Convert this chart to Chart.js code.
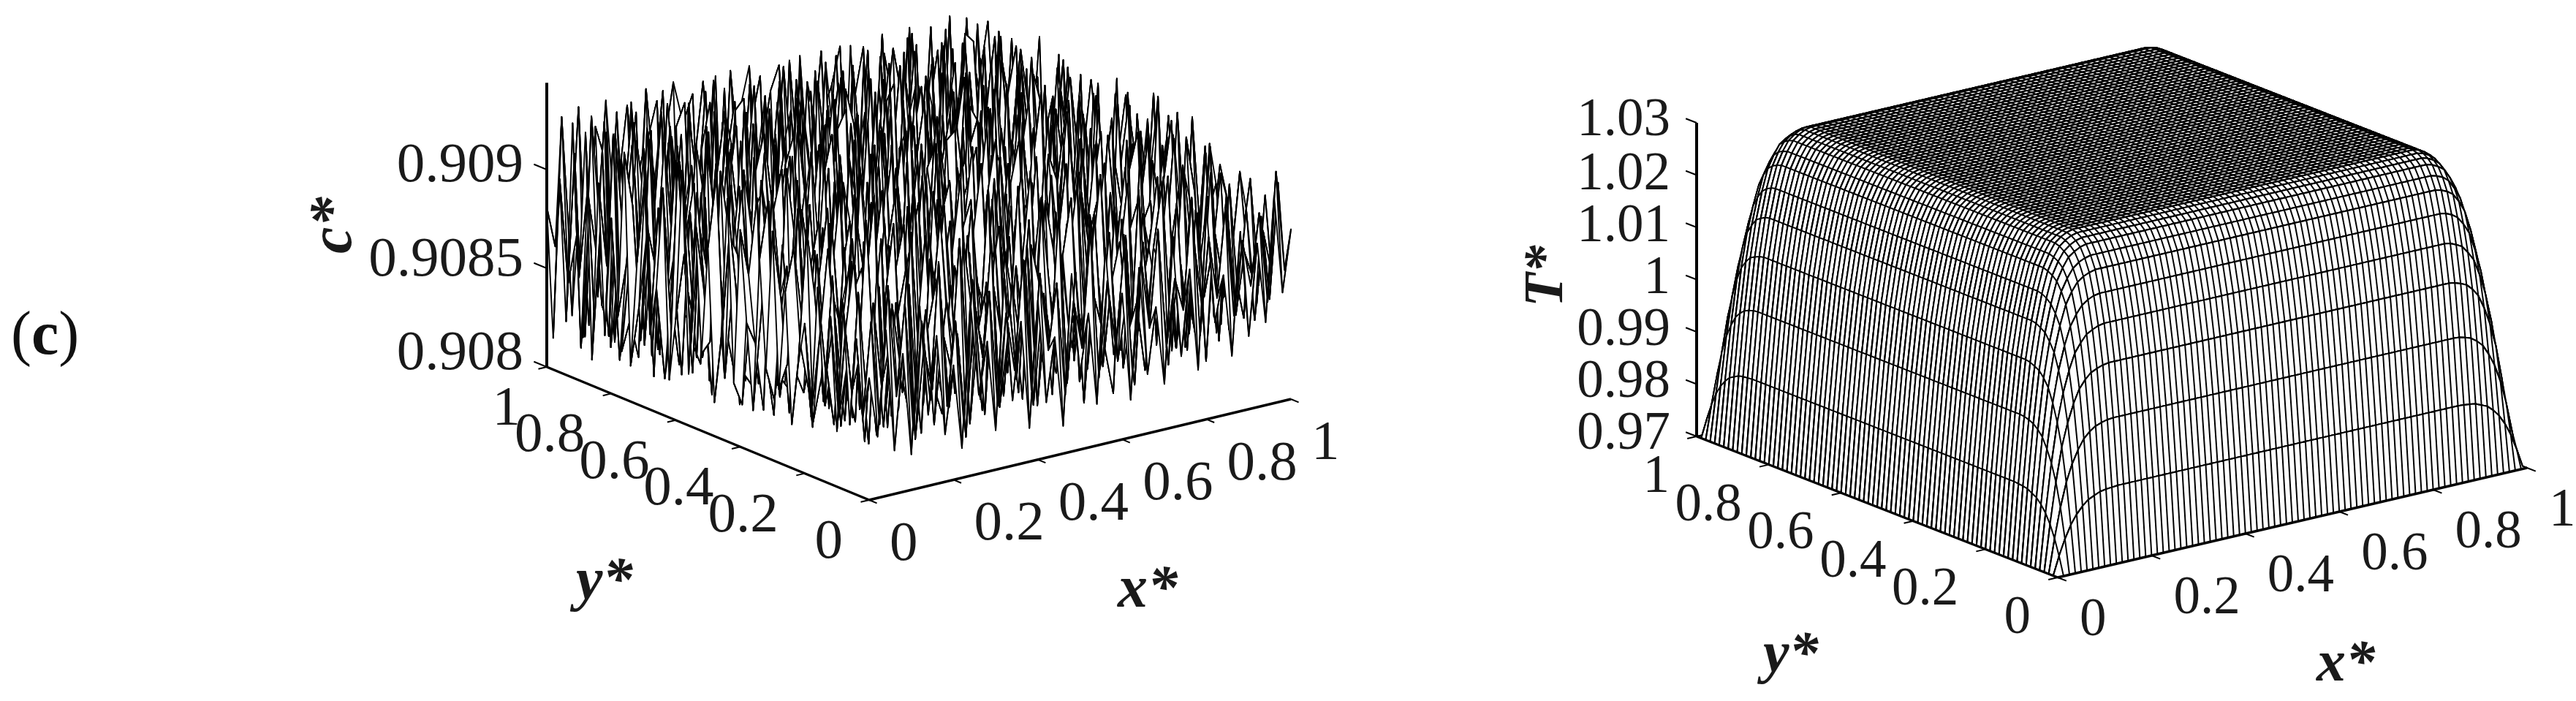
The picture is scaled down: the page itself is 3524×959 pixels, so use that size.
<!DOCTYPE html>
<html>
<head>
<meta charset="utf-8">
<style>
  body { margin: 0; background: #fff; }
  #panel { position: absolute; left: 15px; top: 407px; font: 84px "Liberation Serif"; color: #111; }
</style>
<script src="https://cdn.jsdelivr.net/npm/chart.js@4/dist/chart.umd.js"></script>
</head>
<body>
<div id="panel">(<b>c</b>)</div>
<canvas id="chart" width="3524" height="959"></canvas>
<script>
// tick values and labels
const planTicks = [0, 0.2, 0.4, 0.6, 0.8, 1];
const planText = ['0', '0.2', '0.4', '0.6', '0.8', '1'];
const cTicks = [0.908, 0.9085, 0.909];
const cText = ['0.908', '0.9085', '0.909'];
const tTicks = [0.97, 0.98, 0.99, 1, 1.01, 1.02, 1.03];
const tText = ['0.97', '0.98', '0.99', '1', '1.01', '1.02', '1.03'];

const cRows = [
[62,31,84,22,70,18,92,36,75,24, 58,15,88,40,66,20,96,33,72,17, 81,28,60,14,90,38,68,21,99,44, 74,19,85,30,63,23,94,35,78,26, 107,48,71,29,91,37,83,42,105,55,86],
[40,88,35,104,47,93,28,82,41,110, 36,78,25,97,43,89,30,76,46,101, 34,92,52,85,27,74,49,108,32,80, 45,95,29,87,51,100,39,73,56,112, 41,90,58,103,47,84,60,96,50,115,64],
[79,26,95,52,73,38,106,21,66,44, 91,33,69,16,84,54,112,27,63,39, 98,24,71,48,118,31,86,19,75,57, 102,36,65,22,93,43,80,28,109,35, 88,53,120,34,99,45,76,62,92,49,107],
[34,100,44,80,29,90,57,98,32,83, 24,70,50,115,37,76,23,88,59,72, 30,104,41,77,25,96,55,67,42,111, 33,74,94,47,61,26,87,117,46,69, 31,101,56,79,40,110,52,95,38,82,60],
[91,48,67,20,108,35,74,42,122,55, 71,94,30,61,99,18,65,46,105,28, 83,52,114,19,68,37,92,120,26,58, 85,40,16,103,34,116,50,64,25,89, 73,37,97,21,86,59,70,113,63,44,98],
[28,77,112,56,39,96,24,86,47,64, 17,104,43,81,33,109,72,27,90,56, 41,66,22,99,78,51,31,60,87,38, 107,25,73,48,93,37,62,83,118,30, 54,121,45,68,102,32,88,41,75,106,51],
[85,33,59,94,23,68,118,36,78,101, 46,29,75,122,58,40,95,64,19,83, 110,35,88,47,20,117,71,43,103,66, 29,82,124,36,57,90,21,99,49,70, 115,27,84,38,60,125,48,97,57,34,89],
[42,103,26,72,50,127,45,92,25,54, 86,62,112,35,20,84,31,107,52,74, 28,97,56,126,39,63,92,24,53,85, 119,44,61,100,22,76,114,34,67,94, 42,73,104,55,30,79,66,108,28,87,46],
[97,51,82,36,106,30,63,15,83,120, 41,19,68,91,76,123,46,61,96,33, 79,18,72,43,105,27,48,113,86,32, 64,95,23,80,125,44,59,88,102,26, 81,111,22,93,65,50,118,34,74,53,101],
[30,69,113,58,24,88,99,55,37,62, 94,116,49,27,109,38,16,89,70,117, 51,124,37,90,60,82,128,38,21,104, 47,35,112,56,73,29,97,17,46,121, 58,33,70,127,37,92,25,84,99,41,68],
[76,25,47,93,74,41,20,110,67,28, 105,73,34,129,56,66,100,42,24,58, 95,31,100,15,76,46,55,70,111,64, 87,125,40,18,91,108,52,77,116,31, 85,96,43,60,19,106,61,47,118,35,90],
[54,121,85,32,118,61,96,44,86,130, 23,52,88,18,82,31,125,74,108,35, 67,83,44,114,26,93,33,97,29,52, 119,22,68,94,36,60,27,103,39,72, 23,52,114,86,75,38,122,93,29,66,104],
[22,62,38,105,51,17,78,27,58,99, 67,113,40,71,97,119,50,21,63,89, 126,19,71,55,122,61,106,17,78,128, 37,74,101,49,115,83,127,56,69,20, 110,128,64,31,98,130,45,70,55,113,36],
[88,109,71,26,92,125,34,103,16,47, 122,30,95,123,24,59,86,39,116,44, 28,98,112,35,73,20,48,85,120,42, 65,18,55,128,25,44,75,96,22,91, 50,37,87,122,16,63,82,25,101,43,79],
[37,49,96,60,14,72,115,53,77,91, 35,64,19,48,107,34,70,128,57,94, 75,54,30,91,127,40,116,59,30,96, 111,84,47,72,104,16,122,35,59,126, 73,100,26,54,108,41,118,76,34,125,61],
[116,81,22,124,43,101,29,84,128,21, 110,79,86,123,61,18,112,26,83,15, 103,120,66,23,50,86,36,126,71,19, 57,32,99,20,87,63,92,28,110,78, 38,16,119,70,89,28,97,51,127,58,20],
[45,28,65,83,107,54,68,19,42,74, 53,28,127,39,93,76,46,101,54,121, 38,24,81,107,63,99,22,77,49,109, 130,74,41,118,54,34,124,67,45,16, 96,130,44,24,129,74,35,110,68,92,84],
[99,127,40,33,26,119,88,111,63,125, 36,98,16,72,51,129,33,68,20,88, 58,131,45,17,129,34,60,104,131,25, 40,91,62,27,95,78,14,50,121,85, 57,67,108,80,47,17,123,57,21,112,30],
[21,71,108,57,90,36,24,46,97,13, 82,60,118,43,112,24,90,116,73,37, 95,66,112,76,53,89,128,15,82,55, 100,20,126,84,43,115,101,36,74,29, 123,13,37,95,62,110,88,42,131,39,73],
[64,53,18,128,74,62,130,76,28,103, 41,129,26,87,65,104,57,12,45,126, 19,42,29,101,26,117,45,71,38,119, 66,113,35,56,128,23,61,87,132,48, 34,89,118,26,130,51,18,76,97,61,118],
[110,86,124,44,12,97,39,120,58,70, 132,20,75,101,15,79,37,94,130,62, 83,122,56,132,68,14,93,106,123,30, 77,47,97,16,70,109,47,125,18,65, 104,59,72,46,12,93,125,38,56,129,24],
[31,19,67,91,109,51,84,17,35,112, 50,92,44,119,33,122,84,49,27,109, 35,14,97,40,19,110,54,27,62,91, 130,24,59,120,87,32,94,14,79,117, 26,131,21,109,77,33,70,116,84,12,96],
[123,78,32,25,128,71,28,131,95,61, 26,80,126,30,99,55,13,128,71,56, 118,73,61,127,82,44,126,130,17,50, 72,106,38,81,13,126,53,67,124,37, 85,50,94,62,123,48,129,15,46,107,64],
[48,102,91,60,42,116,63,14,46,83, 117,37,58,76,16,70,105,38,96,21, 88,34,106,15,52,96,31,74,101,112, 28,16,130,46,99,63,22,111,42,90, 14,114,31,86,20,103,59,92,125,33,74],
[17,56,125,13,80,30,98,107,127,22, 68,96,14,121,89,40,124,65,17,128, 42,126,25,71,123,13,84,42,56,20, 129,92,63,24,121,75,126,34,58,28, 128,69,127,40,111,66,19,78,28,124,43],
[94,129,26,74,119,52,19,75,34,60, 130,29,83,43,24,112,27,84,53,100, 64,16,90,125,36,61,108,119,33,89, 54,41,103,84,36,17,47,100,129,73, 18,95,22,62,126,37,124,44,101,54,115],
[39,44,85,47,23,127,93,57,108,14, 47,104,64,128,73,59,95,15,120,35, 78,113,47,19,103,29,70,14,126,64, 25,122,15,67,129,89,107,15,46,113, 55,38,120,88,16,81,30,128,16,83,22],
[106,71,15,127,96,35,18,130,42,88, 118,19,32,101,15,131,44,75,29,127, 24,56,128,82,57,125,23,98,45,116, 80,35,93,49,29,126,59,82,120,20, 92,128,47,72,99,53,112,64,91,48,126],
[26,117,60,36,53,76,115,25,70,129, 55,90,124,51,87,22,110,130,61,86, 105,16,37,66,17,115,87,39,61,27, 102,126,20,114,63,14,97,38,69,131, 29,17,108,23,126,13,74,26,119,36,70],
[128,37,98,73,127,20,84,99,14,51, 35,125,13,72,39,96,53,18,33,47, 131,68,129,21,122,43,69,129,19,126, 58,13,74,41,104,118,24,131,18,48, 101,76,55,127,42,94,128,85,31,107,59],
[51,83,22,112,16,61,122,39,110,94, 103,62,83,116,130,27,77,122,99,115, 16,94,31,89,50,99,14,55,108,34, 83,122,30,125,18,51,85,62,97,83, 35,124,14,88,61,19,37,57,126,12,91],
[19,128,66,44,119,31,56,127,27,18, 75,25,48,15,55,106,14,43,70,18, 82,49,118,16,76,125,92,26,75,118, 43,17,66,88,46,129,15,113,40,21, 128,58,93,33,117,70,130,101,22,80,120],
[115,42,126,84,25,105,13,70,126,86, 40,112,130,92,30,62,130,88,23,125, 41,110,60,129,28,17,47,127,14,87, 97,127,52,16,109,29,77,25,128,74, 46,15,129,51,18,104,16,44,127,60,34],
[63,16,75,16,97,48,128,88,33,52, 127,16,57,21,121,17,38,131,52,64, 125,27,13,80,104,66,130,36,95,50, 21,31,115,81,59,129,93,55,15,118, 95,67,24,121,73,28,92,112,53,15,104],
[38,101,54,123,62,29,17,114,77,127, 19,84,69,104,45,92,116,25,103,18, 54,130,91,43,23,113,17,79,128,28, 126,70,15,128,32,16,124,38,68,90, 24,127,78,13,130,87,49,18,77,127,45],
[129,25,93,35,128,81,107,18,44,61, 98,131,35,130,17,74,60,80,39,124, 88,18,34,117,126,52,89,31,60,111, 46,102,86,40,97,74,50,99,128,33, 109,45,16,106,41,59,130,68,26,96,13],
[72,118,12,106,50,15,59,124,95,20, 37,56,113,28,83,127,16,128,66,96, 20,71,123,58,17,96,21,120,14,76, 129,19,59,127,20,115,84,18,61,128, 17,88,130,55,93,16,36,119,101,49,126],
[18,47,86,64,127,73,129,36,15,130, 78,17,91,64,41,23,105,47,12,128, 63,108,30,84,131,42,68,99,44,127, 35,92,30,111,67,129,28,107,47,80, 119,26,66,23,128,75,122,18,58,15,78],
[125,97,29,128,21,100,46,69,110,58, 125,44,129,16,100,58,94,83,33,111, 43,131,13,102,27,126,16,54,83,25, 70,118,127,15,87,38,56,14,131,14, 52,106,97,35,62,29,84,129,96,113,31],
[40,65,110,41,78,16,122,27,89,30, 71,103,52,116,29,132,19,14,127,73, 15,91,68,55,75,90,37,128,109,62, 130,17,65,45,129,96,120,71,32,100, 128,13,43,127,16,109,54,42,24,70,131],
[89,16,56,125,90,54,33,128,15,118, 14,34,85,21,76,48,126,61,97,25, 123,36,127,13,117,12,113,24,16,94, 40,83,101,22,13,49,16,90,128,60, 39,85,131,68,86,14,130,103,127,37,19],
[28,129,18,33,13,128,63,96,57,43, 127,93,15,128,14,110,37,87,15,130, 59,16,82,44,132,60,47,72,130,21, 109,15,55,124,78,129,36,64,18,14, 120,25,17,98,47,128,34,15,79,51,112],
[104,61,127,71,119,19,83,16,105,74, 24,49,65,40,92,125,72,16,51,101, 84,107,26,98,33,14,129,88,39,131, 71,30,128,17,94,29,107,53,114,86, 74,58,129,21,115,64,95,130,57,127,16],
[13,79,23,100,46,128,41,122,30,16, 121,132,18,106,129,18,56,122,127,31, 16,67,121,17,81,106,16,51,113,48, 14,127,77,39,116,62,15,131,41,26, 99,128,30,76,15,28,73,22,118,31,91],
[127,36,116,15,58,87,131,12,69,128, 50,81,28,59,35,84,99,18,44,76, 130,41,58,129,20,128,65,101,13,86, 121,53,19,129,14,83,125,20,78,128, 15,49,116,87,56,131,126,61,14,128,66],
[52,95,64,128,24,107,17,99,47,93, 17,112,14,127,74,131,27,113,68,112, 19,96,33,88,119,38,16,30,128,63, 98,37,104,58,99,33,45,108,16,54, 129,17,38,127,18,97,19,109,83,40,123],
[129,14,85,38,120,13,76,126,25,113, 130,45,91,20,14,54,103,39,128,15, 59,127,14,47,72,132,80,125,17,43, 129,19,86,25,69,130,18,89,128,103, 64,92,68,13,123,43,71,33,130,17,74],
[27,111,17,128,71,52,127,35,57,14, 66,32,125,78,115,127,14,86,23,90, 118,25,106,128,12,42,57,22,94,114, 15,74,129,43,122,14,77,36,60,12, 27,131,23,105,60,129,16,120,48,100,128],
[98,44,67,15,96,29,15,89,127,84, 103,19,59,37,46,62,91,130,61,48, 18,75,52,16,90,117,129,69,36,55, 83,131,31,16,51,104,128,17,121,75, 109,35,86,46,130,15,82,28,93,63,18],
[16,127,55,130,34,118,102,49,18,108, 41,131,83,128,15,22,39,71,15,127, 36,130,83,61,28,14,94,15,128,76, 24,46,99,110,129,28,58,95,30,130, 42,14,125,15,70,112,40,131,14,128,55],
[81,60,107,23,85,16,65,128,71,31, 124,71,19,55,101,129,110,26,101,76, 127,13,41,109,128,68,31,111,48,19, 127,65,14,72,88,18,126,44,84,66, 118,93,54,128,22,50,97,36,73,21,102]
];

// T* near the (0,0) corner of the right mesh, one row per grid line; the rest of the
// mesh repeats this by symmetry and sits on the 1.03 plateau
const tCorner = [
[0.97,0.97,0.97,0.97,0.97,0.97,0.97,0.97,0.97,0.97,0.97,0.97],
[0.97,0.9735,0.9765,0.9789,0.9807,0.982,0.983,0.9835,0.984,0.9842,0.9843,0.9844],
[0.97,0.9765,0.9822,0.9867,0.99,0.9924,0.9943,0.9954,0.9962,0.9966,0.9969,0.997],
[0.97,0.9789,0.9867,0.9931,0.9975,1.0009,1.0035,1.005,1.0061,1.0066,1.007,1.0072],
[0.97,0.9807,0.99,0.9975,1.0029,1.0069,1.01,1.0117,1.0131,1.0137,1.0142,1.0144],
[0.97,0.982,0.9924,1.0009,1.0069,1.0113,1.0148,1.0168,1.0183,1.0191,1.0196,1.0198],
[0.97,0.983,0.9943,1.0035,1.01,1.0148,1.0186,1.0208,1.0224,1.0232,1.0237,1.024],
[0.97,0.9835,0.9954,1.005,1.0117,1.0168,1.0208,1.023,1.0247,1.0256,1.0261,1.0264],
[0.97,0.984,0.9962,1.0061,1.0131,1.0183,1.0224,1.0247,1.0265,1.0273,1.0279,1.0282],
[0.97,0.9842,0.9966,1.0066,1.0137,1.0191,1.0232,1.0256,1.0273,1.0282,1.0288,1.0291],
[0.97,0.9843,0.9969,1.007,1.0142,1.0196,1.0237,1.0261,1.0279,1.0288,1.0294,1.0297],
[0.97,0.9844,0.997,1.0072,1.0144,1.0198,1.024,1.0264,1.0282,1.0291,1.0297,1.03]
];
const tCells = 80;

// where each 3d box sits on the page
const leftView = { ox: 1189, oy: 684, xx: 577, xy: -138, yx: -441, yy: -182, zBase: 0.908, zTop: 0.90944, zPx: 270000,
  font: 77, zRight: 716, zBaselines: [505, 377, 248], zTickOut: 0.04, planRight: -36, planLeft: 28, planDrop: 79, lw: 1.9 };
const rightView = { ox: 2815, oy: 790, xx: 642, xy: -150, yx: -494, yy: -193, zBase: 0.97, zTop: 1.03, zPx: 7150,
  font: 73, zRight: 2285, zBaselines: [614, 543, 472, 401, 330, 259, 185], zTickOut: 0.03, planRight: -37, planLeft: 30, planDrop: 76, lw: 2 };

const project = (v, x, y, z) => ({
  x: v.ox + x * v.xx + y * v.yx,
  y: v.oy + x * v.xy + y * v.yy - (z - v.zBase) * v.zPx,
});

// one white strip per pair of rows, painted back to front so the mesh hides what is behind it
const meshDatasets = (v, n, zAt) => {
  const sets = [];
  const pt = (i, j) => project(v, i / n, j / n, zAt(i, j));
  for (let j = n - 1; j >= 0; j--) {
    const outline = [];
    for (let i = 0; i <= n; i++) outline.push(pt(i, j + 1));
    for (let i = n; i >= 0; i--) outline.push(pt(i, j));
    const cross = [];
    for (let i = 0; i <= n; i++) {
      if (i % 2 === 0) cross.push(pt(i, j), pt(i, j + 1));
      else cross.push(pt(i, j + 1), pt(i, j));
    }
    sets.push({ data: outline, fill: 'shape', backgroundColor: '#fff', borderColor: '#000', borderWidth: v.lw, borderJoinStyle: 'round' });
    sets.push({ data: cross, borderColor: '#000', borderWidth: v.lw, borderJoinStyle: 'round' });
  }
  return sets;
};

const axisDatasets = (v, zTicks) => {
  const sets = [];
  const line = (pts, w) => sets.push({ data: pts, borderColor: '#000', borderWidth: w });
  line([project(v, 0, 0, v.zBase), project(v, 1, 0, v.zBase)], 3.4);
  line([project(v, 0, 0, v.zBase), project(v, 0, 1, v.zBase)], 3.4);
  line([project(v, 0, 1, v.zBase), project(v, 0, 1, v.zTop)], 4);
  planTicks.forEach((t) => {
    line([project(v, t, 0, v.zBase), project(v, t, -0.024, v.zBase)], 2);
    line([project(v, 0, t, v.zBase), project(v, -0.02, t, v.zBase)], 2);
  });
  zTicks.forEach((t) => line([project(v, 0, 1, t), project(v, 0, 1 + v.zTickOut, t)], 2));
  return sets;
};

const cMesh = meshDatasets(leftView, cRows.length - 1, (i, j) => 0.908 + cRows[j][i] * 1e-5);
const tMesh = meshDatasets(rightView, tCells, (i, j) => {
  const a = Math.min(i, tCells - i, tCorner.length - 1);
  const b = Math.min(j, tCells - j, tCorner.length - 1);
  return tCorner[a][b];
});

// chart.js paints the first dataset last, so flip the back-to-front list
const datasets = [...cMesh, ...axisDatasets(leftView, cTicks), ...tMesh, ...axisDatasets(rightView, tTicks)]
  .map((d) => ({ showLine: true, pointRadius: 0, tension: 0, ...d }))
  .reverse();

const serif = '"Liberation Serif", "Times New Roman", serif';

const labelPlugin = {
  id: 'labels',
  afterDatasetsDraw(chart) {
    const ctx = chart.ctx;
    const sx = chart.scales.x;
    const sy = chart.scales.y;
    const text = (s, x, y, align) => {
      ctx.textAlign = align;
      ctx.fillText(s, sx.getPixelForValue(x), sy.getPixelForValue(y));
    };
    const ticksFor = (v, zText) => {
      ctx.font = v.font + 'px ' + serif;
      zText.forEach((s, k) => text(s, v.zRight, v.zBaselines[k], 'right'));
      planTicks.forEach((t, k) => {
        const onY = project(v, 0, t, v.zBase);
        const onX = project(v, t, 0, v.zBase);
        text(planText[k], onY.x + v.planRight, onY.y + v.planDrop, 'right');
        text(planText[k], onX.x + v.planLeft, onX.y + v.planDrop + 3, 'left');
      });
    };
    const turned = (s, x, y, size) => {
      ctx.save();
      ctx.font = 'italic bold ' + size + 'px ' + serif;
      ctx.textAlign = 'left';
      ctx.translate(sx.getPixelForValue(x), sy.getPixelForValue(y));
      ctx.rotate(-Math.PI / 2);
      ctx.fillText(s, 0, 0);
      ctx.restore();
    };
    ctx.save();
    ctx.fillStyle = '#1a1a1a';
    ctx.textBaseline = 'alphabetic';
    ticksFor(leftView, cText);
    ticksFor(rightView, tText);
    ctx.font = 'italic bold 82px ' + serif;
    text('y*', 788, 819, 'left');
    text('x*', 1529, 830, 'left');
    ctx.font = 'italic bold 80px ' + serif;
    text('y*', 2412, 919, 'left');
    text('x*', 3169, 931, 'left');
    turned('c*', 480, 347, 82);
    turned('T*', 2137, 420, 76);
    ctx.restore();
  },
};

new Chart(document.getElementById('chart'), {
  type: 'scatter',
  data: { datasets },
  options: {
    responsive: false,
    animation: false,
    events: [],
    parsing: false,
    layout: { padding: 0 },
    scales: {
      x: { type: 'linear', min: 0, max: 3524, display: false },
      y: { type: 'linear', min: 0, max: 959, reverse: true, display: false },
    },
    plugins: { legend: { display: false }, tooltip: { enabled: false } },
  },
  plugins: [labelPlugin],
});
</script>
</body>
</html>
